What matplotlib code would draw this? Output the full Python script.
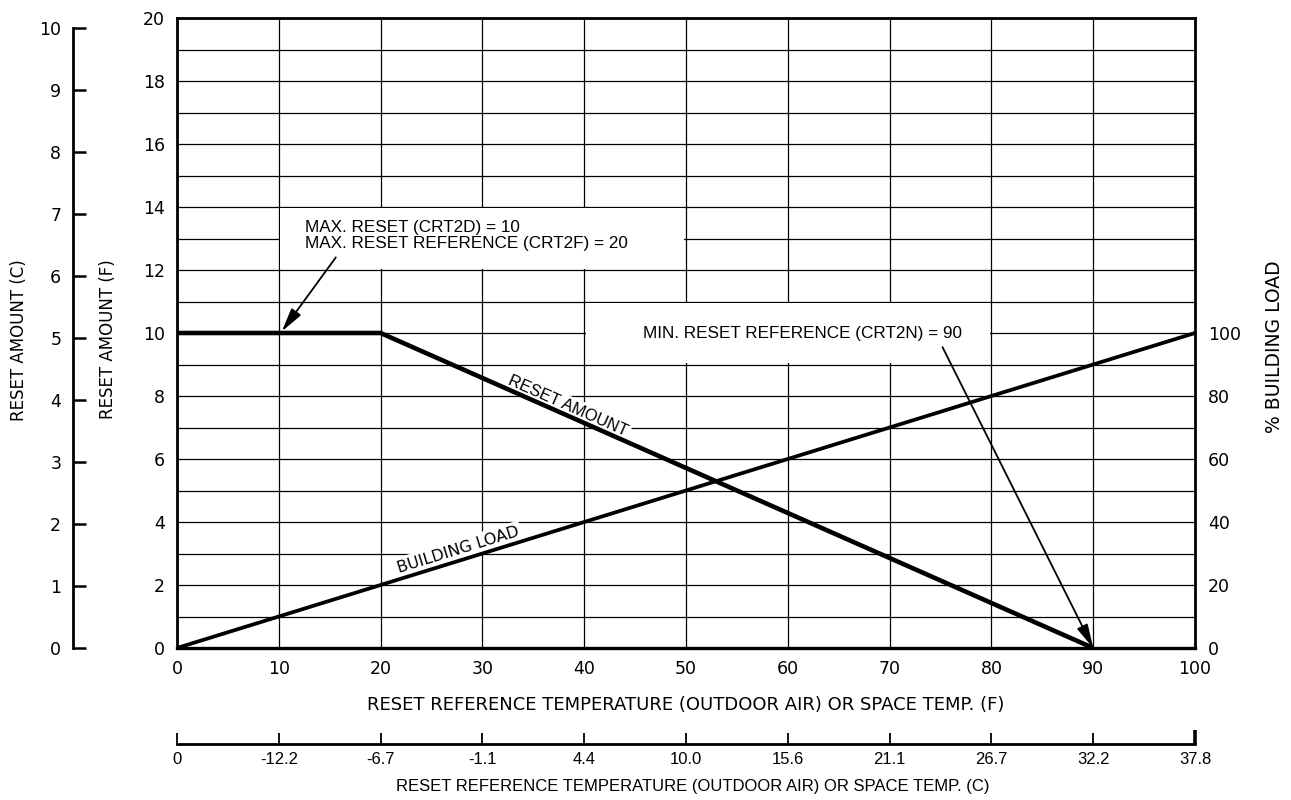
import numpy as np
import matplotlib
matplotlib.use("Agg")
import matplotlib.pyplot as plt
from matplotlib.patches import Rectangle
from matplotlib.ticker import MultipleLocator

# ---------------- data ----------------
temp_f_ticks = [0, 10, 20, 30, 40, 50, 60, 70, 80, 90, 100]
temp_c_labels = ["0", "-12.2", "-6.7", "-1.1", "4.4", "10.0", "15.6",
                 "21.1", "26.7", "32.2", "37.8"]
reset_f_ticks = [0, 2, 4, 6, 8, 10, 12, 14, 16, 18, 20]
reset_c_ticks = [0, 1, 2, 3, 4, 5, 6, 7, 8, 9, 10]
load_ticks = [0, 20, 40, 60, 80, 100]

reset_x = [0, 20, 90]          # reset reference temperature (F)
reset_y = [10, 10, 0]          # reset amount (F)
load_x = [0, 100]              # temperature (F)
load_pct = [0, 100]            # % building load

max_reset_pt = (10.3, 10.05)
min_ref_pt = (90, 0)

# ---------------- figure ----------------
W, H = 1291, 800
fig = plt.figure(figsize=(W / 100, H / 100), dpi=100)
fig.patch.set_facecolor("white")

def px(x, y):
    return x / W, 1 - y / H

TICKFONT = "DejaVu Sans"
HELV = "Liberation Sans"

L, R, T, B = 177, 1195, 18, 648
ax = fig.add_axes([L / W, 1 - B / H, (R - L) / W, (B - T) / H])
ax.set_xlim(0, 100)
ax.set_ylim(0, 20)
ax.set_xticks(temp_f_ticks)
ax.set_yticks(reset_f_ticks)
ax.yaxis.set_minor_locator(MultipleLocator(1))
ax.tick_params(axis="both", which="both", length=0)
ax.tick_params(axis="x", pad=8.5, labelsize=12.5)
ax.tick_params(axis="y", pad=8.5, labelsize=12.5)
for lab in ax.get_xticklabels() + ax.get_yticklabels():
    lab.set_fontfamily(TICKFONT)
ax.set_axisbelow(True)
ax.grid(which="both", axis="y", color="black", lw=0.9)
ax.grid(which="major", axis="x", color="black", lw=0.9)
for s in ax.spines.values():
    s.set_linewidth(2.0)
ax.spines["bottom"].set_linewidth(2.4)

# right % building load axis
ax2 = ax.twinx()
ax2.set_ylim(0, 200)
ax2.set_yticks(load_ticks)
ax2.tick_params(axis="y", length=0, pad=9.5, labelsize=12.5)
for lab in ax2.get_yticklabels():
    lab.set_fontfamily(TICKFONT)
for s in ax2.spines.values():
    s.set_visible(False)

# white annotation boxes (blank the grid)
ax.add_patch(Rectangle((10.15, 12.04), 39.7, 1.92, facecolor="white",
                       edgecolor="none", zorder=1))
ax.add_patch(Rectangle((40.15, 9.04), 39.7, 1.92, facecolor="white",
                       edgecolor="none", zorder=1))

# lines
ax.plot(reset_x, reset_y, color="black", lw=3.3, solid_capstyle="butt", zorder=4)
ax2.plot(load_x, load_pct, color="black", lw=2.7, solid_capstyle="butt", zorder=4)

# line labels
ang_reset = np.degrees(np.arctan2(reset_y[2] - reset_y[1], reset_x[2] - reset_x[1]))
ax.text(38.4, 7.68, "RESET AMOUNT", rotation=ang_reset, transform_rotates_text=True,
        rotation_mode="anchor", ha="center", va="center", fontsize=11.8,
        family=HELV, zorder=3,
        bbox=dict(facecolor="white", edgecolor="none", pad=2))
ang_load = np.degrees(np.arctan2(load_pct[1] - load_pct[0], load_x[1] - load_x[0]))
ax2.text(27.6, 31.2, "BUILDING LOAD", rotation=ang_load, transform_rotates_text=True,
         rotation_mode="anchor", ha="center", va="center", fontsize=11.5,
         family=TICKFONT, zorder=3,
         bbox=dict(facecolor="white", edgecolor="none", pad=2))

# annotations
ax.text(12.6, 13.1, "MAX. RESET (CRT2D) = 10\nMAX. RESET REFERENCE (CRT2F) = 20",
        ha="left", va="center", fontsize=12.3, family=HELV, linespacing=1.1, zorder=3)
ax.annotate("", xy=max_reset_pt, xytext=(15.6, 12.4),
            arrowprops=dict(arrowstyle="-|>,head_length=0.9,head_width=0.22",
                            color="black", lw=1.3, shrinkA=0, shrinkB=0,
                            mutation_scale=16), zorder=5)
ax.text(45.8, 10.0, "MIN. RESET REFERENCE (CRT2N) = 90", ha="left", va="center",
        fontsize=12.3, family=HELV, zorder=3)
ax.annotate("", xy=min_ref_pt, xytext=(75.2, 9.55),
            arrowprops=dict(arrowstyle="-|>,head_length=0.9,head_width=0.22",
                            color="black", lw=1.3, shrinkA=0, shrinkB=0,
                            mutation_scale=16), zorder=5)

# left C reset axis
axc = fig.add_axes([73 / W, 1 - 648 / H, 0.0005, 620 / H])
axc.set_ylim(0, 10)
axc.set_yticks(reset_c_ticks)
axc.set_xticks([])
for k in ["top", "right", "bottom"]:
    axc.spines[k].set_visible(False)
axc.spines["left"].set_linewidth(2.0)
axc.patch.set_visible(False)
axc.tick_params(axis="y", direction="in", length=9.5, width=1.8, pad=8.5,
                labelsize=12.5)
for lab in axc.get_yticklabels():
    lab.set_fontfamily(TICKFONT)

# bottom C temperature axis
axb = fig.add_axes([L / W, 1 - 744 / H, (R - L) / W, 0.0005])
axb.set_xlim(0, 100)
axb.set_xticks(temp_f_ticks)
axb.set_xticklabels(temp_c_labels)
axb.set_yticks([])
for k in ["top", "right", "left"]:
    axb.spines[k].set_visible(False)
axb.spines["bottom"].set_linewidth(2.0)
axb.patch.set_visible(False)
axb.tick_params(axis="x", direction="in", length=8, width=1.3, pad=6,
                labelsize=12)
for lab in axb.get_xticklabels():
    lab.set_fontfamily(HELV)
end_tick = axb.xaxis.get_major_ticks()[-1]
end_tick.tick1line.set_markeredgewidth(2.6)
end_tick.tick1line.set_markersize(10)

# axis titles
fig.text(*px(19, 340), "RESET AMOUNT (C)", rotation=90, ha="center", va="center",
         fontsize=12, family=TICKFONT)
fig.text(*px(108, 339), "RESET AMOUNT (F)", rotation=90, ha="center", va="center",
         fontsize=12, family=TICKFONT)
fig.text(*px(1275, 347), "% BUILDING LOAD", rotation=90, ha="center", va="center",
         fontsize=13.5, family=TICKFONT)
fig.text(*px(686, 705), "RESET REFERENCE TEMPERATURE (OUTDOOR AIR) OR SPACE TEMP. (F)",
         ha="center", va="center", fontsize=13, family=TICKFONT)
fig.text(*px(693, 787), "RESET REFERENCE TEMPERATURE (OUTDOOR AIR) OR SPACE TEMP. (C)",
         ha="center", va="center", fontsize=12, family=HELV)

fig.savefig("out.png", dpi=100, facecolor="white")
